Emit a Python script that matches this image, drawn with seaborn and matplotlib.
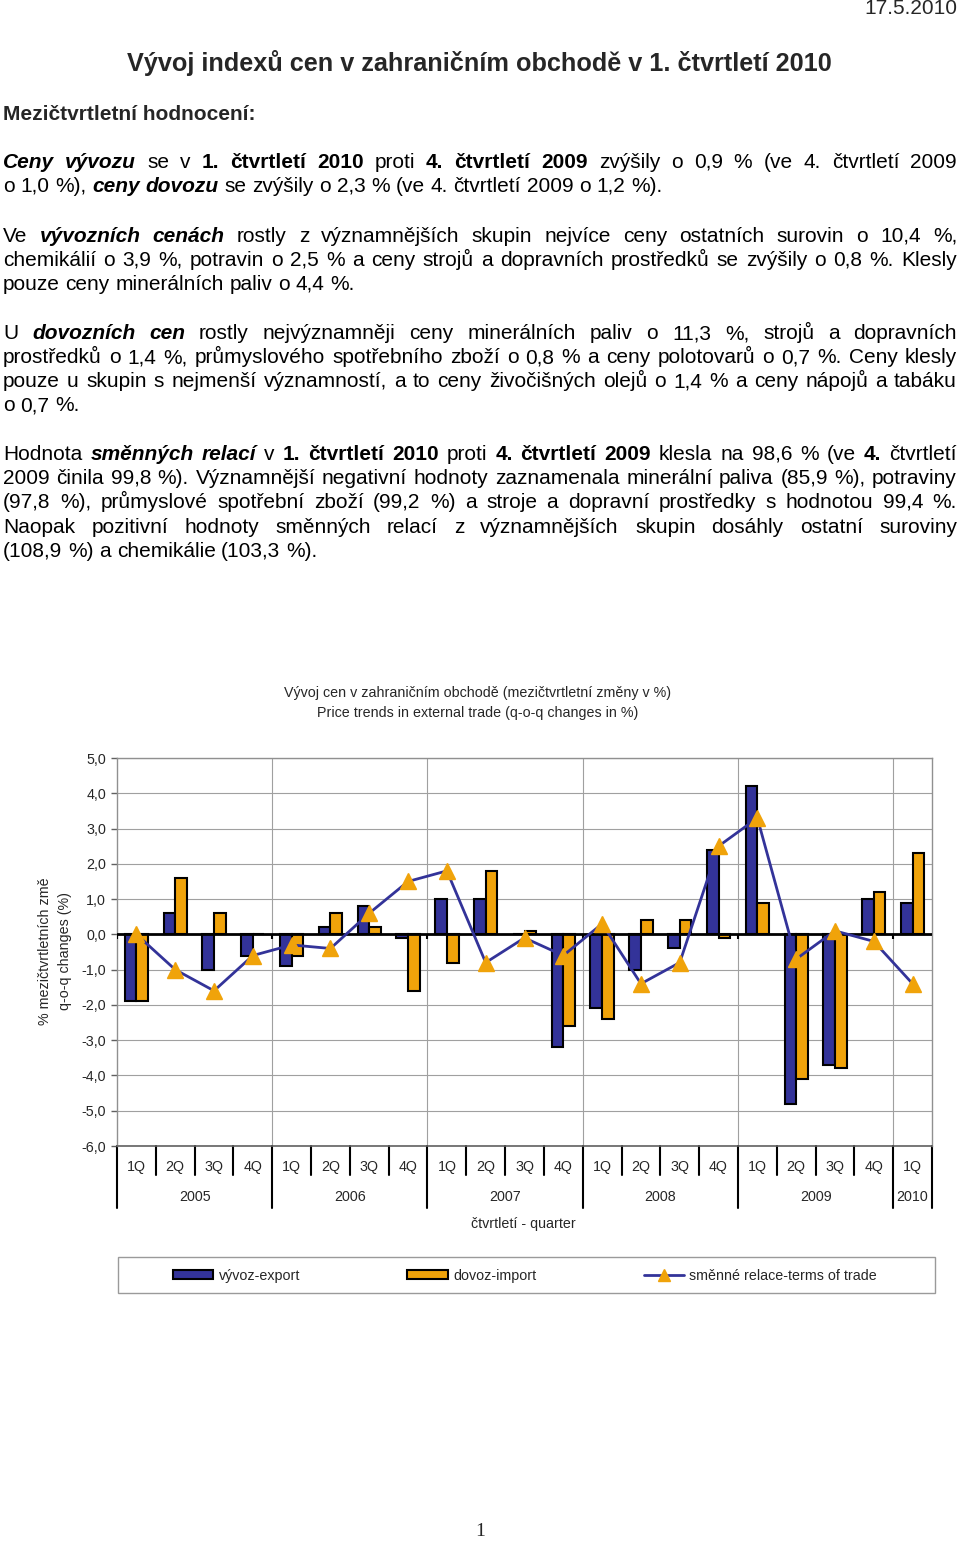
import numpy as np
import pandas as pd
import matplotlib
matplotlib.use("Agg")
import matplotlib.pyplot as plt
import matplotlib.patches as mpatches
from matplotlib.lines import Line2D
import seaborn as sns

# ── data ──────────────────────────────────────────────────────────
years = ["2005", "2006", "2007", "2008", "2009", "2010"]
year_sizes = [4, 4, 4, 4, 4, 1]
quarters = ["1Q", "2Q", "3Q", "4Q"] * 5 + ["1Q"]

export_chg = [-1.9, 0.6, -1.0, -0.6, -0.9, 0.2, 0.8, -0.1, 1.0, 1.0, 0.0,
              -3.2, -2.1, -1.0, -0.4, 2.4, 4.2, -4.8, -3.7, 1.0, 0.9]
import_chg = [-1.9, 1.6, 0.6, 0.0, -0.6, 0.6, 0.2, -1.6, -0.8, 1.8, 0.1,
              -2.6, -2.4, 0.4, 0.4, -0.1, 0.9, -4.1, -3.8, 1.2, 2.3]
terms_chg = [0.0, -1.0, -1.6, -0.6, -0.3, -0.4, 0.6, 1.5, 1.8, -0.8, -0.1,
             -0.6, 0.3, -1.4, -0.8, 2.5, 3.3, -0.7, 0.1, -0.2, -1.4]

y_ticks = [5, 4, 3, 2, 1, 0, -1, -2, -3, -4, -5, -6]
y_tick_labels = ["5,0", "4,0", "3,0", "2,0", "1,0", "0,0", "-1,0", "-2,0",
                 "-3,0", "-4,0", "-5,0", "-6,0"]

series_names = ["vývoz-export", "dovoz-import", "směnné relace-terms of trade"]

BLUE = "#333399"
ORANGE = "#F0A30A"

# ── text of the page ─────────────────────────────────────────────
# '*' toggles bold italic, '#' toggles bold; (text, y px, justified)
body_lines = [
    ("*Ceny vývozu* se v #1. čtvrtletí 2010# proti #4. čtvrtletí 2009# zvýšily o 0,9 % (ve 4. čtvrtletí 2009", 162, True),
    ("o 1,0 %), *ceny dovozu* se zvýšily o 2,3 % (ve 4. čtvrtletí 2009 o 1,2 %).", 186, False),
    ("Ve *vývozních cenách* rostly z významnějších skupin nejvíce ceny ostatních surovin o 10,4 %,", 236, True),
    ("chemikálií o 3,9 %, potravin o 2,5 % a ceny strojů a dopravních prostředků se zvýšily o 0,8 %. Klesly", 260, True),
    ("pouze ceny minerálních paliv o 4,4 %.", 284, False),
    ("U *dovozních cen* rostly nejvýznamněji ceny minerálních paliv o 11,3 %, strojů a dopravních", 333, True),
    ("prostředků o 1,4 %, průmyslového spotřebního zboží o 0,8 % a ceny polotovarů o 0,7 %. Ceny klesly", 357, True),
    ("pouze u skupin s nejmenší významností, a to ceny živočišných olejů o 1,4 % a ceny nápojů a tabáku", 381, True),
    ("o 0,7 %.", 405, False),
    ("Hodnota *směnných relací* v #1. čtvrtletí 2010# proti #4. čtvrtletí 2009# klesla na 98,6 % (ve #4.# čtvrtletí", 454, True),
    ("2009 činila 99,8 %). Významnější negativní hodnoty zaznamenala minerální paliva (85,9 %), potraviny", 478, True),
    ("(97,8 %), průmyslové spotřební zboží (99,2 %) a stroje a dopravní prostředky s hodnotou 99,4 %.", 502, True),
    ("Naopak pozitivní hodnoty směnných relací z významnějších skupin dosáhly ostatní suroviny", 527, True),
    ("(108,9 %) a chemikálie (103,3 %).", 551, False),
]

W, H = 960, 1543
BODY = 15
CHART = 10.3

sns.set_theme(style="white")
plt.rcParams["font.family"] = ["Liberation Sans", "DejaVu Sans"]


def fx(x):
    return x / W


def fy(y):
    return 1 - y / H


fig = plt.figure(figsize=(W / 100, H / 100), dpi=100)
fig.patch.set_facecolor("white")
renderer = fig.canvas.get_renderer()

STYLES = {"n": dict(fontweight="normal", fontstyle="normal"),
          "b": dict(fontweight="bold", fontstyle="normal"),
          "i": dict(fontweight="bold", fontstyle="italic")}


def draw_rich_line(line, y, justify, x0=3, x1=957, size=BODY):
    words = []
    cur = "n"
    for tok in line.split(" "):
        text, wstyle = "", None
        for ch in tok:
            if ch == "*":
                cur = "n" if cur == "i" else "i"
                continue
            if ch == "#":
                cur = "n" if cur == "b" else "b"
                continue
            if wstyle is None:
                wstyle = cur
            text += ch
        if text:
            words.append((text, wstyle))
    arts, widths = [], []
    for text, st in words:
        t = fig.text(0, fy(y + 6), text, fontsize=size, va="baseline", ha="left",
                     color="black", **STYLES[st])
        arts.append(t)
        widths.append(t.get_window_extent(renderer).width)
    a = fig.text(0, 0, "a a", fontsize=size)
    b = fig.text(0, 0, "aa", fontsize=size)
    space = a.get_window_extent(renderer).width - b.get_window_extent(renderer).width
    a.remove()
    b.remove()
    if justify and len(words) > 1:
        gap = (x1 - x0 - sum(widths)) / (len(words) - 1)
    else:
        gap = space
    x = x0
    for t, w in zip(arts, widths):
        t.set_x(fx(x))
        x += w + gap


fig.text(fx(957), fy(8), "17.5.2010", fontsize=BODY, ha="right", va="center")
fig.text(fx(479), fy(63), "Vývoj indexů cen v zahraničním obchodě v 1. čtvrtletí 2010",
         fontsize=18.2, fontweight="bold", ha="center", va="center")
fig.text(fx(3), fy(114), "Mezičtvrtletní hodnocení:", fontsize=BODY, fontweight="bold",
         ha="left", va="center")
for line, y, just in body_lines:
    draw_rich_line(line, y, just)

# ── chart ────────────────────────────────────────────────────────
cats = []
for yr, k in zip(years, year_sizes):
    cats += [f"{yr} {q}" for q in quarters[len(cats):len(cats) + k]]
n = len(cats)

df = pd.DataFrame({
    "cat": cats * 2,
    "value": export_chg + import_chg,
    "series": [series_names[0]] * n + [series_names[1]] * n,
})

ax = fig.add_axes([fx(117), fy(1146), 815 / W, 388 / H])
sns.barplot(data=df, x="cat", y="value", hue="series", order=cats,
            hue_order=series_names[:2], palette=[BLUE, ORANGE], saturation=1,
            width=0.6, edgecolor="black", linewidth=1.5, errorbar=None,
            legend=False, ax=ax)
ax.plot(np.arange(n), terms_chg, color=BLUE, lw=2, marker="^", ms=11,
        mfc=ORANGE, mec=ORANGE, zorder=6)

ax.set_xlim(-0.5, n - 0.5)
ax.set_ylim(-6, 5)
ax.set_yticks(y_ticks)
ax.set_yticklabels(y_tick_labels)
ax.set_xticks([])
ax.set_xlabel("")
ax.set_ylabel("")
ax.yaxis.grid(True, color="#a0a0a0", lw=0.8)
ax.set_axisbelow(True)
ax.tick_params(axis="y", length=4, width=1, color="#606060", labelsize=CHART, pad=4, left=True)

bounds = list(np.cumsum(year_sizes))
for b in bounds[:-1]:
    ax.axvline(b - 0.5, color="#a0a0a0", lw=0.8, zorder=0)
ax.axhline(0, color="black", lw=2, zorder=4)
ax.vlines([b - 0.5 for b in [0] + bounds[:-1]], -0.12, 0, color="black", lw=1.5, zorder=4)

for side in ["top", "right", "left"]:
    ax.spines[side].set_color("#909090")
    ax.spines[side].set_linewidth(1)
ax.spines["bottom"].set_color("#606060")
ax.spines["bottom"].set_linewidth(1.2)

# multi-level category axis
trans = ax.get_xaxis_transform()
ah = 388.0
long_bounds = {0} | set(bounds)
for i in range(n + 1):
    low = -62 / ah if i in long_bounds else -29 / ah
    ax.plot([i - 0.5, i - 0.5], [0, low], transform=trans, color="black",
            lw=1.5, clip_on=False)
for i, q in enumerate(quarters):
    ax.text(i, -21 / ah, q, transform=trans, ha="center", va="center", fontsize=CHART)
start = 0
for yr, k in zip(years, year_sizes):
    ax.text(start + (k - 1) / 2, -51 / ah, yr, transform=trans, ha="center",
            va="center", fontsize=CHART)
    start += k

fig.text(fx(523), fy(1224), "čtvrtletí - quarter", fontsize=CHART, ha="center", va="center")
fig.text(fx(478), fy(693), "Vývoj cen v zahraničním obchodě (mezičtvrtletní změny v %)",
         fontsize=CHART, ha="center", va="center")
fig.text(fx(478), fy(713), "Price trends in external trade (q-o-q changes in %)",
         fontsize=CHART, ha="center", va="center")
fig.text(fx(45), fy(951), "% mezičtvrtletních změ", fontsize=CHART, rotation=90,
         ha="center", va="center")
fig.text(fx(65), fy(951), "q-o-q changes (%)", fontsize=CHART, rotation=90,
         ha="center", va="center")

# legend
frame = mpatches.Rectangle((fx(118), fy(1293)), (935 - 118) / W, 36 / H,
                           transform=fig.transFigure, fill=False,
                           edgecolor="#9a9a9a", lw=1)
fig.add_artist(frame)
handles = [mpatches.Patch(facecolor=BLUE, edgecolor="black", lw=1.5),
           mpatches.Patch(facecolor=ORANGE, edgecolor="black", lw=1.5),
           Line2D([], [], color=BLUE, lw=2, marker="^", ms=9, mfc=ORANGE, mec=ORANGE)]
fig.legend(handles, series_names, loc="center left",
           bbox_to_anchor=(fx(173), fy(1276)), ncol=3, frameon=False,
           fontsize=CHART, handlelength=2.8, handleheight=0.6, handletextpad=0.4,
           columnspacing=7.5, borderpad=0, borderaxespad=0)

fig.text(fx(480), fy(1532), "1", family=["Liberation Serif", "DejaVu Serif"],
         fontsize=14, ha="center", va="center")

fig.savefig("out.png", dpi=100)
